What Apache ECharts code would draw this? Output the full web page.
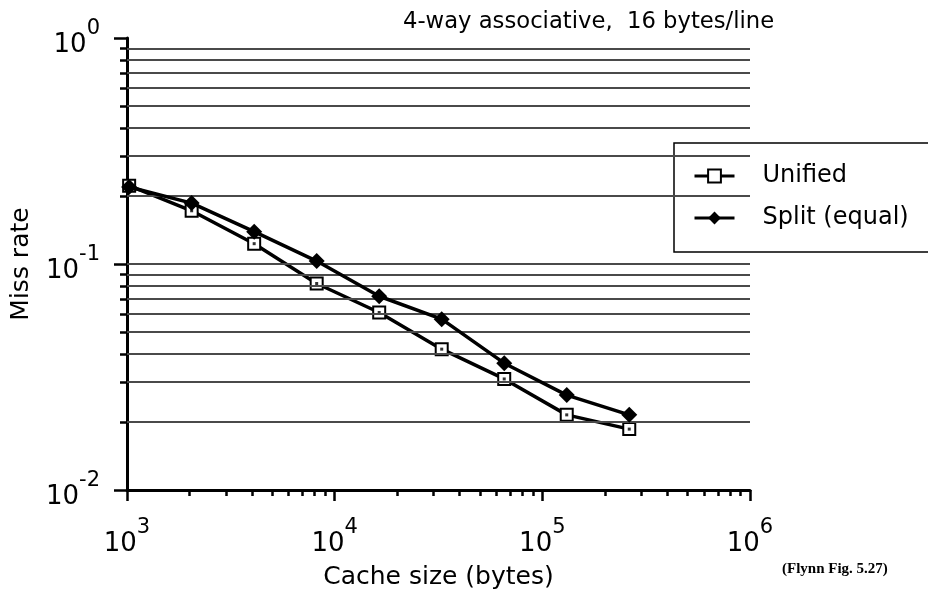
<!DOCTYPE html>
<html>
<head>
<meta charset="utf-8">
<script src="https://cdn.jsdelivr.net/npm/echarts@6/dist/echarts.min.js"></script>
<style>html,body{margin:0;padding:0;background:#fff}#c{width:928px;height:591px}</style>
</head>
<body>
<div id="c"></div>
<script>
// ---- data ----
const cacheSizes = [1024, 2048, 4096, 8192, 16384, 32768, 65536, 131072, 262144];
const unified = [0.222, 0.172, 0.123, 0.082, 0.061, 0.042, 0.031, 0.0215, 0.0186];
const split = [0.219, 0.186, 0.139, 0.103, 0.072, 0.057, 0.0364, 0.0263, 0.0215];
const seriesNames = ['Unified', 'Split (equal)'];
const xMajorTicks = [1e3, 1e4, 1e5, 1e6];
const xMinorTicks = [2e3, 3e3, 4e3, 5e3, 6e3, 7e3, 8e3, 9e3, 2e4, 3e4, 4e4, 5e4, 6e4, 7e4, 8e4, 9e4, 2e5, 3e5, 4e5, 5e5, 6e5, 7e5, 8e5, 9e5];
const yMajorTicks = [0.01, 0.1, 1];
const yMinorTicks = [0.02, 0.03, 0.04, 0.05, 0.06, 0.07, 0.08, 0.09, 0.2, 0.3, 0.4, 0.5, 0.6, 0.7, 0.8, 0.9];
const yGridLines = [0.02, 0.03, 0.04, 0.05, 0.06, 0.07, 0.08, 0.09, 0.1, 0.2, 0.3, 0.4, 0.5, 0.6, 0.7, 0.8, 0.9];
const titleText = '4-way associative,  16 bytes/line';
const sourceText = '(Flynn Fig. 5.27)';
const xName = 'Cache size (bytes)';
const yName = 'Miss rate';

// ---- chart ----
const FONT = 'DejaVu Sans';
const pairs = (xs, ys) => xs.map((x, i) => [x, ys[i]]);
const powLabel = v => '{b|10}{s|' + Math.round(Math.log10(v)) + '}';
const rich = {
  b: {fontSize: 26, fontFamily: FONT, color: '#000', padding: [14, 0, 0, 0]},
  s: {fontSize: 21, fontFamily: FONT, color: '#000', verticalAlign: 'top'}
};

const chart = echarts.init(document.getElementById('c'), null, {renderer: 'canvas'});
chart.setOption({
  animation: false,
  backgroundColor: '#fff',
  title: [
    {text: titleText, left: 398, top: 6, textStyle: {fontFamily: FONT, fontSize: 22.7, fontWeight: 'normal', color: '#000'}},
    {text: sourceText, left: 777, top: 557, textStyle: {fontFamily: 'Liberation Serif', fontSize: 15, fontWeight: 'bold', color: '#000'}}
  ],
  grid: {left: 127, right: 178, top: 38, bottom: 101, containLabel: false, outerBoundsMode: 'none'},
  legend: {
    data: seriesNames,
    orient: 'vertical',
    left: 674, top: 143,
    itemWidth: 40, itemHeight: 16, itemGap: 12,
    padding: [18, 40, 19, 19],
    borderColor: '#000', borderWidth: 1.5, borderRadius: 0,
    backgroundColor: '#fff',
    lineStyle: {width: 3, color: '#000'},
    textStyle: {fontFamily: FONT, fontSize: 24, color: '#000', lineHeight: 30, padding: [0, 0, 0, 23]}
  },
  xAxis: [
    {
      type: 'log', logBase: 10, min: 1e3, max: 1e6,
      name: xName, nameLocation: 'middle', nameGap: 75,
      nameTextStyle: {fontFamily: FONT, fontSize: 25, color: '#000'},
      axisLine: {lineStyle: {color: '#000', width: 3}},
      axisTick: {customValues: xMajorTicks, length: 11, lineStyle: {color: '#000', width: 2.5}},
      axisLabel: {customValues: xMajorTicks, formatter: powLabel, rich: rich, margin: 27},
      splitLine: {show: false}
    },
    {
      type: 'log', logBase: 10, min: 1e3, max: 1e6, position: 'bottom', offset: 0,
      axisLine: {show: false},
      axisTick: {customValues: xMinorTicks, length: 6, lineStyle: {color: '#000', width: 2.5}},
      axisLabel: {show: false},
      splitLine: {show: false}
    }
  ],
  yAxis: [
    {
      type: 'log', logBase: 10, min: 0.01, max: 1,
      name: yName, nameLocation: 'middle', nameGap: 93, nameRotate: 90,
      nameTextStyle: {fontFamily: FONT, fontSize: 25, color: '#000'},
      axisLine: {lineStyle: {color: '#000', width: 3}},
      axisTick: {customValues: yMajorTicks, length: 13, lineStyle: {color: '#000', width: 2.5}},
      axisLabel: {customValues: yMajorTicks, formatter: powLabel, rich: rich, margin: 27},
      splitLine: {show: false}
    },
    {
      type: 'log', logBase: 10, min: 0.01, max: 1, position: 'left', offset: 0,
      axisLine: {show: false},
      axisTick: {customValues: yMinorTicks, length: 7, lineStyle: {color: '#000', width: 2.5}},
      axisLabel: {show: false},
      splitLine: {show: false}
    }
  ],
  series: [
    {
      name: 'grid', type: 'line', data: [], z: 1, silent: true,
      markLine: {
        silent: true, symbol: ['none', 'none'], label: {show: false},
        lineStyle: {color: '#4a4a4a', width: 2, type: 'solid'},
        emphasis: {disabled: true},
        data: yGridLines.map(v => ({yAxis: v}))
      }
    },
    {
      name: seriesNames[0], type: 'line', data: pairs(cacheSizes, unified), z: 3,
      symbol: 'rect', symbolSize: 12,
      itemStyle: {color: '#fff', borderColor: '#000', borderWidth: 2},
      lineStyle: {color: '#000', width: 3.5}
    },
    {
      name: 'dots', type: 'scatter', data: pairs(cacheSizes, unified), z: 4, silent: true,
      symbol: 'rect', symbolSize: 3, itemStyle: {color: '#000'}
    },
    {
      name: seriesNames[1], type: 'line', data: pairs(cacheSizes, split), z: 5,
      symbol: 'diamond', symbolSize: 16,
      itemStyle: {color: '#000'},
      lineStyle: {color: '#000', width: 3.5}
    }
  ]
});
</script>
</body>
</html>
